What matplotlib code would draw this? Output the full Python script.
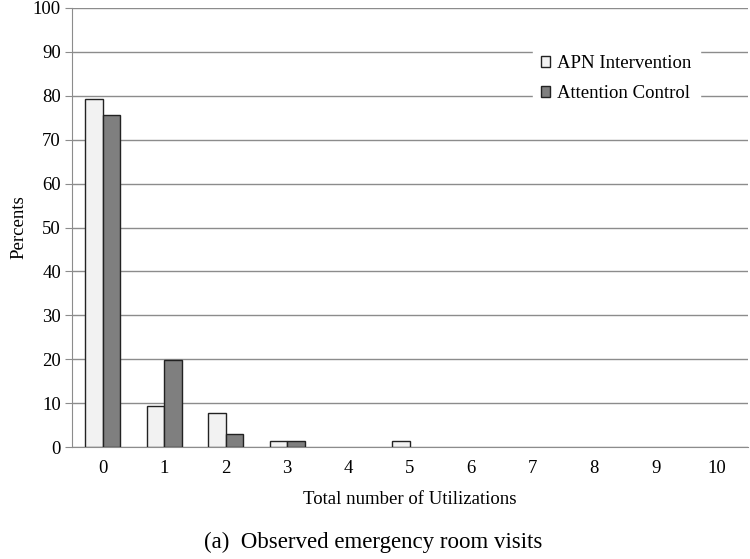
import matplotlib.pyplot as plt
import numpy as np

plt.rcParams['font.family'] = ['Liberation Serif', 'DejaVu Serif']
plt.rcParams['font.size'] = 13.5

# data
utilizations = [0, 1, 2, 3, 4, 5, 6, 7, 8, 9, 10]
apn = [79.2, 9.4, 7.8, 1.5, 0, 1.5, 0, 0, 0, 0, 0]
control = [75.5, 19.8, 3.0, 1.5, 0, 0, 0, 0, 0, 0, 0]

fig = plt.figure(figsize=(7.5, 5.59), dpi=100)
ax = fig.add_axes([0.096, 0.2, 0.901, 0.786])

x = np.arange(len(utilizations))
w = 0.285
apn_a = np.array(apn)
ctl_a = np.array(control)
# zero-height bars are not drawn in the original
m1 = apn_a > 0
m2 = ctl_a > 0
ax.bar(x[m1] - w / 2, apn_a[m1], w, color='#f2f2f2', edgecolor='#222222', linewidth=1,
       label='APN Intervention', zorder=3)
ax.bar(x[m2] + w / 2, ctl_a[m2], w, color='#7f7f7f', edgecolor='#222222', linewidth=1,
       label='Attention Control', zorder=3)

ax.set_xlim(-0.5, 10.5)
ax.set_ylim(0, 100)
ax.set_yticks(range(0, 101, 10))
ax.set_xticks(x)
ax.set_xticklabels([str(u) for u in utilizations])
ax.yaxis.grid(True, color='#8c8c8c', linewidth=1, zorder=0)
for s in ['top', 'right']:
    ax.spines[s].set_visible(False)
for s in ['left', 'bottom']:
    ax.spines[s].set_color('#8c8c8c')
ax.tick_params(axis='y', length=5, color='#8c8c8c', pad=3, labelsize=13.5)
ax.tick_params(axis='x', length=0, pad=9, labelsize=13.5)
ax.set_xlabel('Total number of Utilizations', fontsize=13.5, labelpad=10)
ax.set_ylabel('Percents', fontsize=13.5, labelpad=4)

leg = ax.legend(loc='upper right', bbox_to_anchor=(0.929, 0.911), frameon=True, fontsize=13.5,
                handlelength=0.5, handleheight=0.5, handletextpad=0.35, borderpad=0.45,
                labelspacing=0.7, borderaxespad=0)
leg.get_frame().set_edgecolor('white')
leg.get_frame().set_facecolor('white')
leg.get_frame().set_alpha(1)
leg.get_frame().set_boxstyle('square', pad=0)

fig.text(0.497, 0.02, '(a)  Observed emergency room visits', ha='center', fontsize=16.5)

fig.savefig('out.png', dpi=100)
